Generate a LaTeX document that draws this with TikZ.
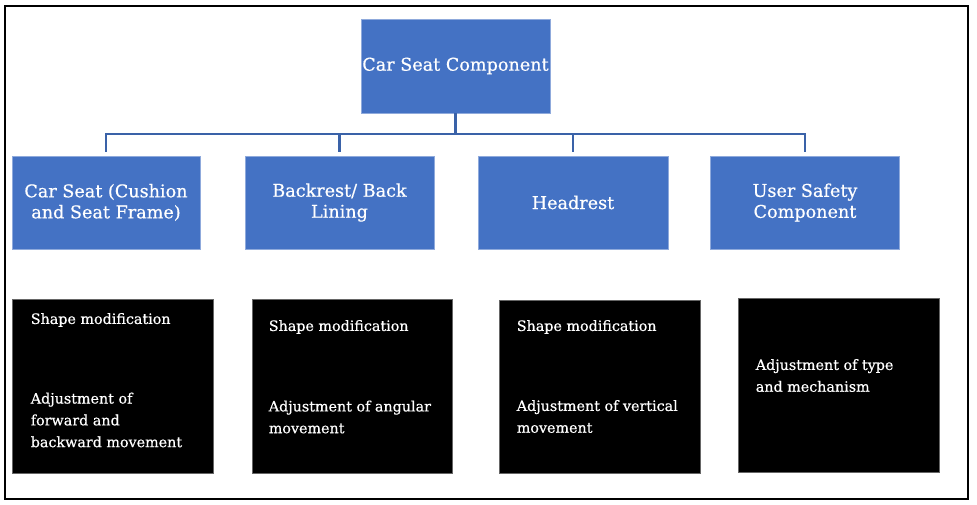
\documentclass[tikz,border=0pt]{standalone}
\usepackage{fontspec}
\setmainfont{DejaVu Serif}
\newfontfamily\semib[FakeBold=0.5]{DejaVu Serif}
\definecolor{boxblue}{HTML}{4472C4}
\definecolor{lineblue}{HTML}{3A62A8}
\definecolor{edgeblue}{HTML}{8FAADC}
\tikzset{
  bluebox/.style={draw=edgeblue, line width=0.6pt, fill=boxblue, text=white, align=center,
    font=\semib\fontsize{17.6}{21}\selectfont, inner sep=0pt},
  blackbox/.style={draw=black!60, line width=0.8pt, fill=black, minimum width=201pt, minimum height=174pt, inner sep=0pt},
  itemtext/.style={text=white, align=left, anchor=west, inner sep=0pt,
    font=\semib\fontsize{14.3}{21.8}\selectfont},
  conn/.style={draw=lineblue, line width=2.2pt}
}
\begin{document}
\begin{tikzpicture}[x=1pt,y=-1pt]
\useasboundingbox (0,0) rectangle (977,505);
\draw[line width=2pt, black] (5,6) rectangle (968,499);

\node[bluebox, minimum width=189pt, minimum height=94pt] (root) at (455.5,66) {Car Seat Component};
\node[bluebox, minimum width=188pt, minimum height=93pt] (c1) at (106,202.5) {Car Seat (Cushion\\and Seat Frame)};
\node[bluebox, minimum width=189pt, minimum height=93pt] (c2) at (339.5,202.5) {Backrest/ Back\\Lining};
\node[bluebox, minimum width=190pt, minimum height=93pt] (c3) at (573,202.5) {Headrest};
\node[bluebox, minimum width=189pt, minimum height=93pt] (c4) at (805,202.5) {User Safety\\Component};

\coordinate (bus) at (456,134);
\draw[conn] (root.south) -- (root.south |- bus);
\draw[conn] (c1.north) ++(0,-4) coordinate (c1t) (c4.north) ++(0,-4) coordinate (c4t);
\draw[conn] (c1t) |- (bus) -| (c4t);
\draw[conn] (c2.north) ++(0,-4) coordinate (c2t) (c2t) -- (c2t |- bus);
\draw[conn] (c3.north) ++(0,-4) coordinate (c3t) (c3t) -- (c3t |- bus);

\node[blackbox] (b1) at (112.5,386) {};
\node[blackbox, minimum width=200pt] (b2) at (352,386) {};
\node[blackbox, minimum height=173pt] (b3) at (599.5,386.5) {};
\node[blackbox] (b4) at (838.5,385) {};

\node[itemtext] (t1a) at ([xshift=19pt]b1.west |- 0,320) {Shape modification};
\node[itemtext] (t1b) at ([xshift=19pt]b1.west |- 0,420) {Adjustment of\\forward and\\backward movement};
\node[itemtext] (t2a) at ([xshift=17pt]b2.west |- 0,327) {Shape modification};
\node[itemtext] (t2b) at ([xshift=17pt]b2.west |- 0,417) {Adjustment of angular\\movement};
\node[itemtext] (t3a) at ([xshift=18pt]b3.west |- 0,327) {Shape modification};
\node[itemtext] (t3b) at ([xshift=18pt]b3.west |- 0,416.5) {Adjustment of vertical\\movement};
\node[itemtext] (t4a) at ([xshift=18pt]b4.west |- 0,375.5) {Adjustment of type\\and mechanism};
\end{tikzpicture}
\end{document}
